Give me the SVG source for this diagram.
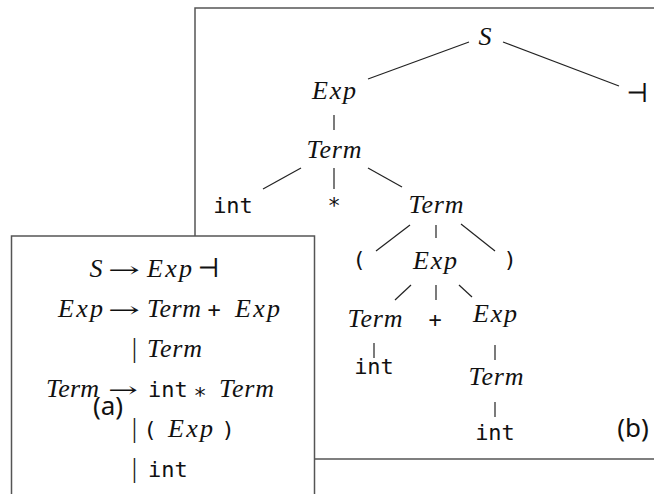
<svg xmlns="http://www.w3.org/2000/svg" width="654" height="494" viewBox="0 0 654 494">
<style>
.box{fill:#fff;stroke:#555;stroke-width:1.5}
.edge{stroke:#222;stroke-width:1.2;fill:none}
.mi{font-family:"Liberation Serif",serif;font-style:italic;font-size:26px;fill:#111;text-anchor:middle}
.rm{font-family:"DejaVu Serif","Liberation Serif",serif;font-size:26px;fill:#111;text-anchor:middle}
.ar{font-family:"DejaVu Serif",serif;font-size:21px;fill:#111;text-anchor:middle}
.tt{font-family:"DejaVu Sans Mono","Liberation Mono",monospace;font-size:22px;fill:#111;text-anchor:middle}
.lab{font-family:"Noto Sans","Open Sans",sans-serif;font-size:26px;fill:#111;text-anchor:middle}
.bar{font-family:"Liberation Serif",serif;font-size:27px;fill:#222;text-anchor:middle}
.l{text-anchor:start}
.r{text-anchor:end}
</style>
<rect id="panel-b" class="box" x="195" y="8" width="470" height="451"/>
<g id="connectors">
<line class="edge" x1="469" y1="42" x2="368" y2="79"/>
<line class="edge" x1="503" y1="42" x2="619" y2="86"/>
<line class="edge" x1="334" y1="115" x2="334" y2="130"/>
<line class="edge" x1="301" y1="168" x2="263" y2="189"/>
<line class="edge" x1="334" y1="168" x2="334" y2="189"/>
<line class="edge" x1="368" y1="168" x2="402" y2="187"/>
<line class="edge" x1="410" y1="225" x2="376" y2="251"/>
<line class="edge" x1="436" y1="225" x2="436" y2="238"/>
<line class="edge" x1="461" y1="224" x2="495" y2="251"/>
<line class="edge" x1="411" y1="285" x2="395" y2="300"/>
<line class="edge" x1="436" y1="285" x2="436" y2="300"/>
<line class="edge" x1="459" y1="285" x2="472" y2="297"/>
<line class="edge" x1="374" y1="343" x2="374" y2="358"/>
<line class="edge" x1="495" y1="345" x2="495" y2="360"/>
<line class="edge" x1="495" y1="402" x2="495" y2="417"/>
</g>
<g id="n-S"><text class="mi" x="485" y="45">S</text></g>
<g id="n-end"><text class="rm" x="637" y="102">⊣</text></g>
<g id="n-Exp1"><text class="mi" x="334" y="99" textLength="44" lengthAdjust="spacing">Exp</text></g>
<g id="n-Term1"><text class="mi" x="334" y="158" textLength="55" lengthAdjust="spacing">Term</text></g>
<g id="n-int1"><text class="tt" x="233" y="213">int</text></g>
<g id="n-star"><text class="tt" x="334" y="213">*</text></g>
<g id="n-Term2"><text class="mi" x="436" y="213" textLength="55" lengthAdjust="spacing">Term</text></g>
<g id="n-lp"><text class="tt" x="359" y="267">(</text></g>
<g id="n-Exp2"><text class="mi" x="435" y="269" textLength="44" lengthAdjust="spacing">Exp</text></g>
<g id="n-rp"><text class="tt" x="510" y="267">)</text></g>
<g id="n-Term3"><text class="mi" x="375" y="327" textLength="55" lengthAdjust="spacing">Term</text></g>
<g id="n-plus"><text class="tt" x="435" y="327">+</text></g>
<g id="n-Exp3"><text class="mi" x="495" y="322" textLength="44" lengthAdjust="spacing">Exp</text></g>
<g id="n-int3"><text class="tt" x="374" y="374">int</text></g>
<g id="n-Term4"><text class="mi" x="496" y="385" textLength="55" lengthAdjust="spacing">Term</text></g>
<g id="n-int4"><text class="tt" x="495" y="440">int</text></g>
<g id="label-b"><text class="lab" x="633" y="437">(b)</text></g>
<rect id="panel-a" class="box" x="11.5" y="236" width="303" height="270"/>
<g id="grammar">
<text class="mi" x="96" y="277">S</text>
<text class="ar" x="124" y="277" textLength="32" lengthAdjust="spacingAndGlyphs">→</text>
<text class="mi l" x="147" y="277" textLength="45" lengthAdjust="spacing">Exp</text>
<text class="rm l" x="197" y="277">⊣</text>
<text class="mi r" x="103" y="317" textLength="45" lengthAdjust="spacing">Exp</text>
<text class="ar" x="124" y="317" textLength="32" lengthAdjust="spacingAndGlyphs">→</text>
<text class="mi l" x="147" y="317" textLength="54" lengthAdjust="spacing">Term</text>
<text class="tt" x="214" y="317">+</text>
<text class="mi l" x="235" y="317" textLength="45" lengthAdjust="spacing">Exp</text>
<text class="bar" x="134.5" y="357">|</text>
<text class="mi l" x="147" y="357" textLength="55" lengthAdjust="spacing">Term</text>
<text class="mi r" x="99" y="397" textLength="53" lengthAdjust="spacing">Term</text>
<text class="ar" x="123" y="397" textLength="30" lengthAdjust="spacingAndGlyphs">→</text>
<text class="tt l" x="148" y="397">int</text>
<text class="tt" x="200" y="403">*</text>
<text class="mi l" x="219" y="397" textLength="55" lengthAdjust="spacing">Term</text>
<text class="bar" x="134.5" y="437">|</text>
<text class="tt" x="150" y="437">(</text>
<text class="mi l" x="168" y="437" textLength="45" lengthAdjust="spacing">Exp</text>
<text class="tt" x="228" y="437">)</text>
<text class="bar" x="134.5" y="477">|</text>
<text class="tt l" x="148" y="477">int</text>
</g>
<g id="label-a"><text class="lab" x="108" y="415">(a)</text></g>
</svg>
